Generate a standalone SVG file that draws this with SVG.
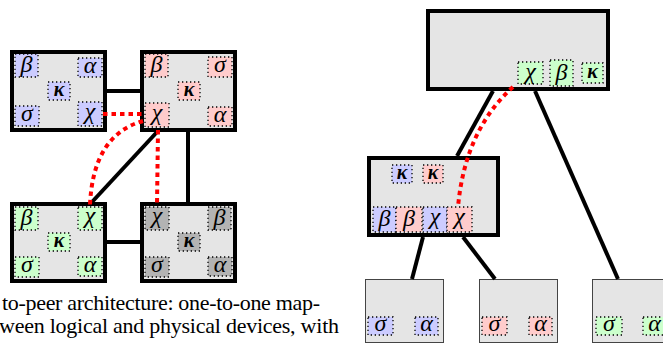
<svg xmlns="http://www.w3.org/2000/svg" width="663" height="345" viewBox="0 0 663 345">
<style>
.box{fill:#e5e5e5;stroke:#000;stroke-width:4}
.leaf{fill:#e5e5e5;stroke:#444;stroke-width:1}
.t{stroke:#000;stroke-width:1.3;stroke-dasharray:1.3 2.7}
.b{fill:#ccccff}.r{fill:#ffcccc}.g{fill:#ccffcc}.k{fill:#b3b3b3}
.edge{stroke:#000;stroke-width:4;fill:none}
.red{stroke:#ff0000;stroke-width:4;stroke-dasharray:4.5 4;fill:none}
.kp{font-size:20px;font-weight:bold}
</style>
<g font-family="Liberation Serif, DejaVu Serif, serif" font-style="italic" font-size="24" text-anchor="middle" fill="#000">
<g id="left-top-left">
<rect class="box" x="12" y="52" width="93" height="78"/>
<rect class="t b" x="15" y="54" width="23" height="23"/><text x="26.5" y="72">β</text>
<rect class="t b" x="78" y="58" width="24" height="19"/><text x="90" y="73">α</text>
<rect class="t b" x="48" y="82" width="22" height="18"/><text class="kp" x="59" y="96">κ</text>
<rect class="t b" x="15" y="106" width="24" height="20"/><text x="27" y="121">σ</text>
<rect class="t b" x="78" y="102" width="24" height="24"/><text x="90" y="119">χ</text>
</g>

<g id="left-top-right">
<rect class="box" x="142" y="52" width="93" height="78"/>
<rect class="t r" x="145" y="54" width="23" height="23"/><text x="156.5" y="72">β</text>
<rect class="t r" x="208" y="57" width="24" height="20"/><text x="220" y="72">σ</text>
<rect class="t r" x="178" y="82" width="22" height="18"/><text class="kp" x="189" y="96">κ</text>
<rect class="t r" x="145" y="103" width="24" height="24"/><text x="157" y="120">χ</text>
<rect class="t r" x="208" y="107" width="24" height="19"/><text x="220" y="122">α</text>
</g>

<g id="left-bottom-left">
<rect class="box" x="12" y="204" width="93" height="77"/>
<rect class="t g" x="15" y="207" width="23" height="23"/><text x="26.5" y="225">β</text>
<rect class="t g" x="78" y="207" width="24" height="23"/><text x="90" y="223">χ</text>
<rect class="t g" x="48" y="233" width="22" height="18"/><text class="kp" x="59" y="247">κ</text>
<rect class="t g" x="15" y="257" width="24" height="20"/><text x="27" y="272">σ</text>
<rect class="t g" x="78" y="257" width="24" height="19"/><text x="90" y="272">α</text>
</g>

<g id="left-bottom-right">
<rect class="box" x="142" y="204" width="93" height="77"/>
<rect class="t k" x="145" y="207" width="24" height="23"/><text x="157" y="223">χ</text>
<rect class="t k" x="208" y="207" width="23" height="23"/><text x="219.5" y="225">β</text>
<rect class="t k" x="178" y="233" width="22" height="18"/><text class="kp" x="189" y="247">κ</text>
<rect class="t k" x="145" y="257" width="24" height="20"/><text x="157" y="272">σ</text>
<rect class="t k" x="208" y="257" width="24" height="19"/><text x="220" y="272">α</text>
</g>

<g id="right-root">
<rect class="box" x="428" y="11" width="180" height="78"/>
<rect class="t g" x="518" y="62" width="25" height="22"/><text x="530.5" y="79">χ</text>
<rect class="t g" x="550" y="60" width="23" height="26"/><text x="561.5" y="80">β</text>
<rect class="t g" x="582" y="63" width="21" height="20"/><text class="kp" x="592.5" y="78">κ</text>
</g>

<g id="right-middle">
<rect class="box" x="369" y="158" width="129" height="77"/>
<rect class="t b" x="392" y="165" width="20" height="18"/><text class="kp" x="402" y="179">κ</text>
<rect class="t r" x="423" y="165" width="20" height="18"/><text class="kp" x="433" y="179">κ</text>
<rect class="t b" x="373" y="207" width="23" height="25"/><text x="384.5" y="226">β</text>
<rect class="t r" x="396" y="207" width="26" height="25"/><text x="409" y="226">β</text>
<rect class="t b" x="423" y="207" width="24" height="25"/><text x="435" y="224">χ</text>
<rect class="t r" x="447" y="207" width="25" height="25"/><text x="459.5" y="224">χ</text>
</g>

<g id="right-leaf-1">
<rect class="leaf" x="365.5" y="279.5" width="78" height="63"/>
<rect class="t b" x="368" y="317" width="25" height="18"/><text x="380.5" y="331">σ</text>
<rect class="t b" x="415" y="317" width="23" height="18"/><text x="426.5" y="331">α</text>
</g>

<g id="right-leaf-2">
<rect class="leaf" x="479.5" y="279.5" width="78" height="63"/>
<rect class="t r" x="482" y="317" width="25" height="18"/><text x="494.5" y="331">σ</text>
<rect class="t r" x="529" y="317" width="23" height="18"/><text x="540.5" y="331">α</text>
</g>

<g id="right-leaf-3">
<rect class="leaf" x="592.5" y="279.5" width="78" height="63"/>
<rect class="t g" x="596" y="317" width="26" height="18"/><text x="609" y="331">σ</text>
<rect class="t g" x="643" y="317" width="23" height="18"/><text x="654.5" y="331">α</text>
</g>
</g>

<g id="connectors">
<line class="edge" x1="107" y1="91" x2="140" y2="91"/>
<line class="edge" x1="188" y1="132" x2="188" y2="202"/>
<line class="edge" x1="157" y1="132" x2="92" y2="202"/>
<line class="edge" x1="107" y1="242" x2="140" y2="242"/>
<line class="red" x1="103" y1="114" x2="143" y2="114"/>
<line class="red" x1="158" y1="130" x2="157" y2="205"/>
<path class="red" d="M143,121 Q93,135 90,205"/>
<line class="edge" x1="493" y1="91" x2="457" y2="156"/>
<line class="edge" x1="535" y1="91" x2="618" y2="279"/>
<line class="edge" x1="423" y1="237" x2="412" y2="279"/>
<line class="edge" x1="463" y1="237" x2="495" y2="279"/>
<path class="red" d="M513,87 Q465,130 458,207"/>
</g>

<g id="caption" font-family="Liberation Serif, DejaVu Serif, serif" font-size="22" fill="#000">
<text x="2" y="310" textLength="318" lengthAdjust="spacing">to-peer architecture: one-to-one map-</text>
<text x="-1" y="333" textLength="340" lengthAdjust="spacing">ween logical and physical devices, with</text>
</g>
</svg>
